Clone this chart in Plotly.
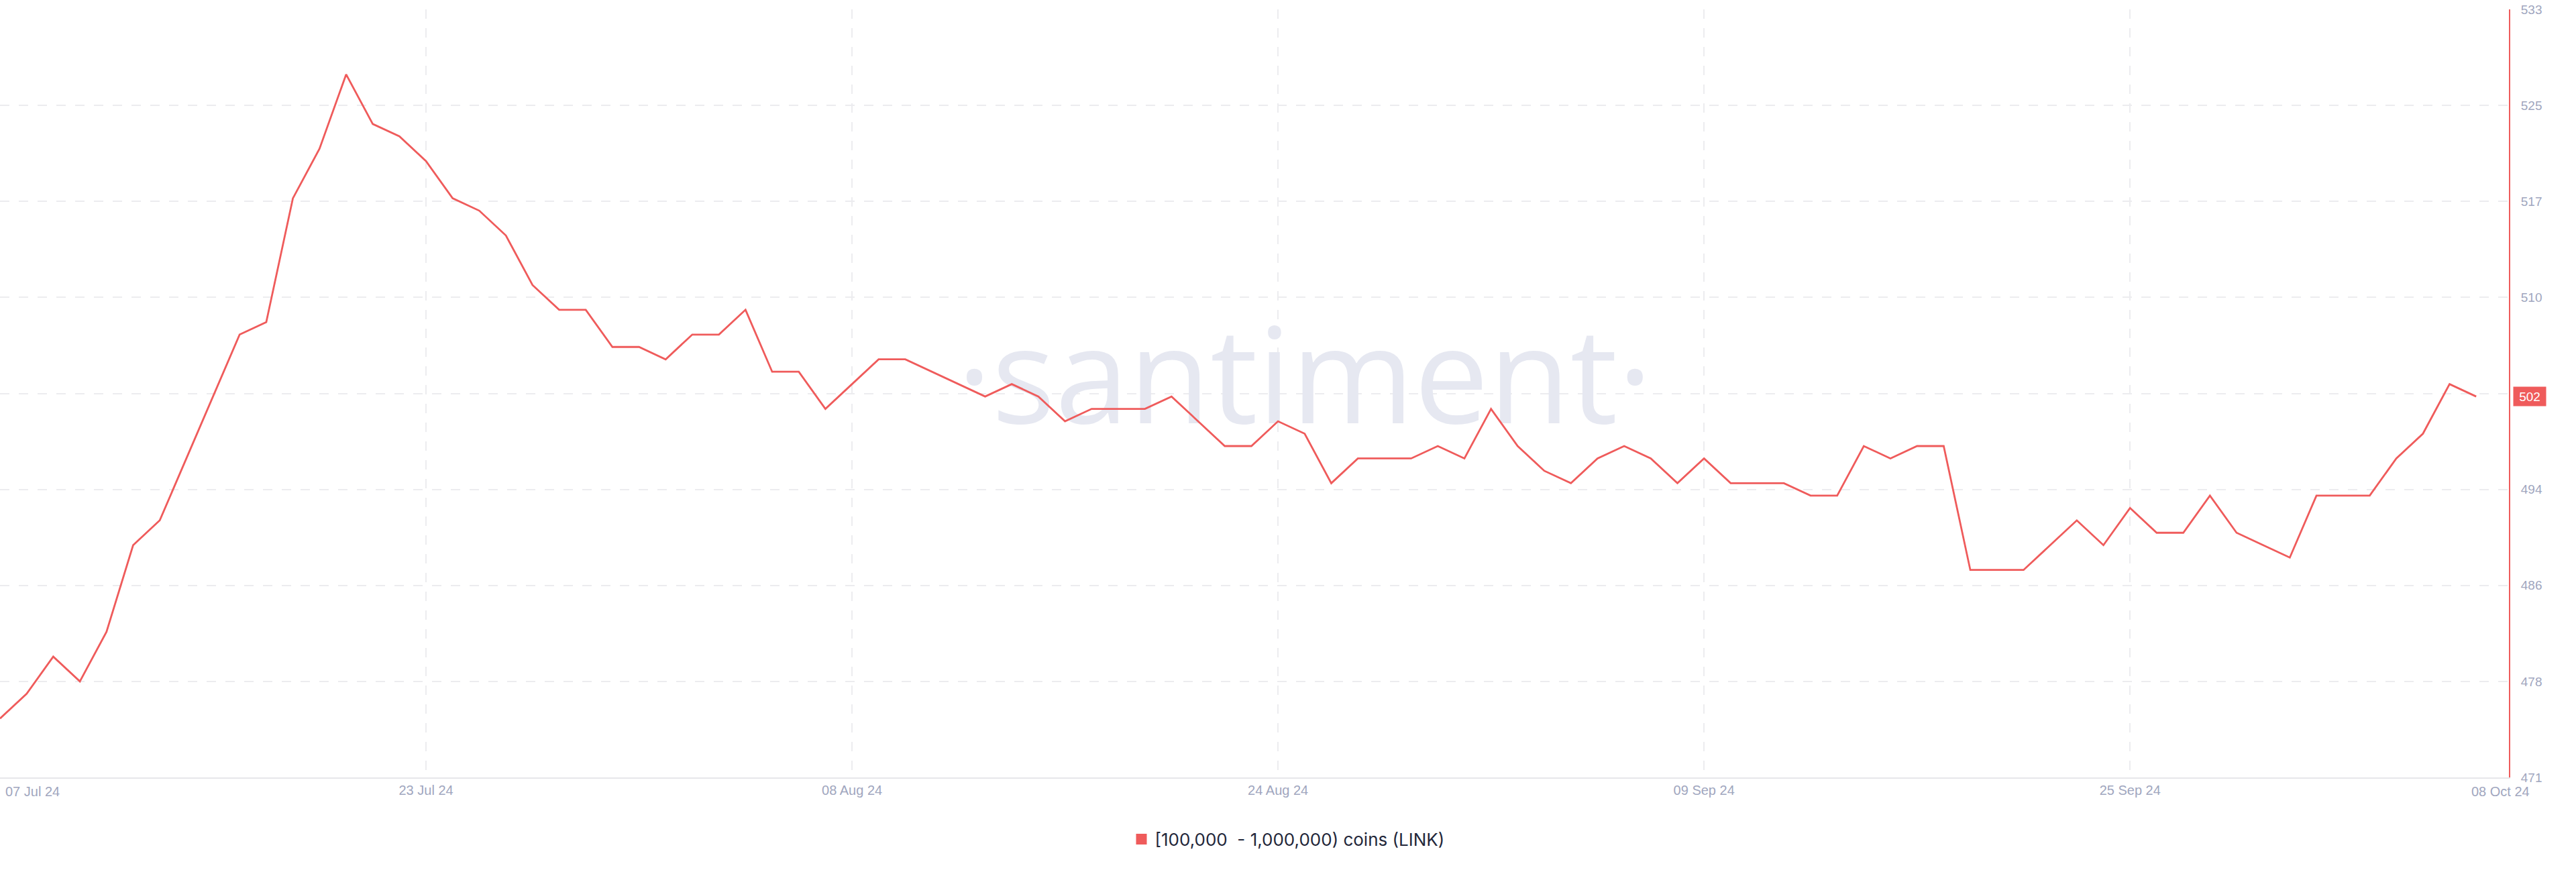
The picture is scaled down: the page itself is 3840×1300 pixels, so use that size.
import plotly.graph_objects as go
import pandas as pd
import numpy as np

# ---- data ----
start_date = "2024-07-07"
holders = [476, 478, 481, 479, 483, 490, 492, 497, 502, 507,
           508, 518, 522, 528, 524, 523, 521, 518, 517, 515,
           511, 509, 509, 506, 506, 505, 507, 507, 509, 504,
           504, 501, 503, 505, 505, 504, 503, 502, 503, 502,
           500, 501, 501, 501, 502, 500, 498, 498, 500, 499,
           495, 497, 497, 497, 498, 497, 501, 498, 496, 495,
           497, 498, 497, 495, 497, 495, 495, 495, 494, 494,
           498, 497, 498, 498, 488, 488, 488, 490, 492, 490,
           493, 491, 491, 494, 491, 490, 489, 494, 494, 494,
           497, 499, 503, 502]
dates = pd.date_range(start_date, periods=len(holders), freq="D")

x_tick_dates = ["2024-07-07", "2024-07-23", "2024-08-08", "2024-08-24", "2024-09-09", "2024-09-25"]
x_tick_labels = ["", "23 Jul 24", "08 Aug 24", "24 Aug 24", "09 Sep 24", "25 Sep 24"]
edge_labels = ["07 Jul 24", "08 Oct 24"]
y_tick_labels = ["471", "478", "486", "494", "502", "510", "517", "525", "533"]
series_name = "[100,000\u00a0 - 1,000,000) coins (LINK)"

# ---- style ----
RED = "#ef5b5b"
TICK = "#a0a6be"
GRID = "#ececef"
y_range = [471.25, 533.25]
x_range = ["2024-07-07", "2024-10-09 05:30"]
y_tickvals = list(np.linspace(y_range[0], y_range[1], len(y_tick_labels)))

fig = go.Figure()

# watermark (drawn first so the line sits on top)
fig.add_trace(go.Scatter(
    x=[pd.Timestamp("2024-08-25")], y=[502.5], mode="text",
    text=["\u00b7santiment\u00b7"],
    textfont=dict(family="Open Sans", size=198, color="#e6e8f1"),
    hoverinfo="skip", showlegend=False, cliponaxis=False))

fig.add_trace(go.Scatter(
    x=dates, y=holders, mode="lines",
    line=dict(color=RED, width=2.8),
    showlegend=False, name=series_name))

# legend entry (square swatch)
fig.add_trace(go.Scatter(
    x=[None], y=[None], mode="markers",
    marker=dict(symbol="square", size=18, color=RED),
    name=series_name, showlegend=True))

fig.update_layout(
    width=3840, height=1300,
    margin=dict(l=0, r=100, t=14, b=141),
    paper_bgcolor="white", plot_bgcolor="white",
    font=dict(family="Liberation Sans", size=20, color=TICK),
    showlegend=True,
    legend=dict(orientation="h", xref="container", yref="container",
                x=0.5, xanchor="center", y=1 - 1251 / 1300, yanchor="middle",
                font=dict(family="Inter", size=26, color="#23273a"),
                itemwidth=30),
    xaxis=dict(type="date", range=x_range,
               tickvals=x_tick_dates, ticktext=x_tick_labels,
               showgrid=True, gridcolor=GRID, gridwidth=2, griddash="14px,14px",
               showline=True, linecolor="#e6e6ea", linewidth=2,
               ticks="", zeroline=False,
               tickfont=dict(family="Liberation Sans", size=20, color=TICK)),
    yaxis=dict(range=y_range, side="right",
               tickvals=y_tickvals, ticktext=y_tick_labels,
               showgrid=True, gridcolor=GRID, gridwidth=2, griddash="14px,14px",
               showline=True, linecolor=RED, linewidth=2,
               ticks="", zeroline=False, ticklabelstandoff=12,
               tickfont=dict(family="Liberation Sans", size=19, color=TICK)),
)

# edge date labels
fig.add_annotation(x=0, xref="paper", y=0, yref="paper", yshift=-21,
                   text=edge_labels[0], showarrow=False, xanchor="left", yanchor="middle",
                   xshift=6, font=dict(family="Liberation Sans", size=20, color=TICK))
fig.add_annotation(x=1, xref="paper", y=0, yref="paper", yshift=-21,
                   text=edge_labels[1], showarrow=False, xanchor="right", yanchor="middle",
                   xshift=33, font=dict(family="Liberation Sans", size=20, color=TICK))

# last value badge
fig.add_annotation(x=1, xref="paper", y=holders[-1], yref="y",
                   text=str(holders[-1]), showarrow=False, xanchor="left", yanchor="middle",
                   xshift=6, width=46, height=26, bgcolor=RED,
                   font=dict(family="Liberation Sans", size=19, color="white"))

fig.write_html("out.html", config={"displayModeBar": False},
               post_script="document.body.style.margin='0';")
